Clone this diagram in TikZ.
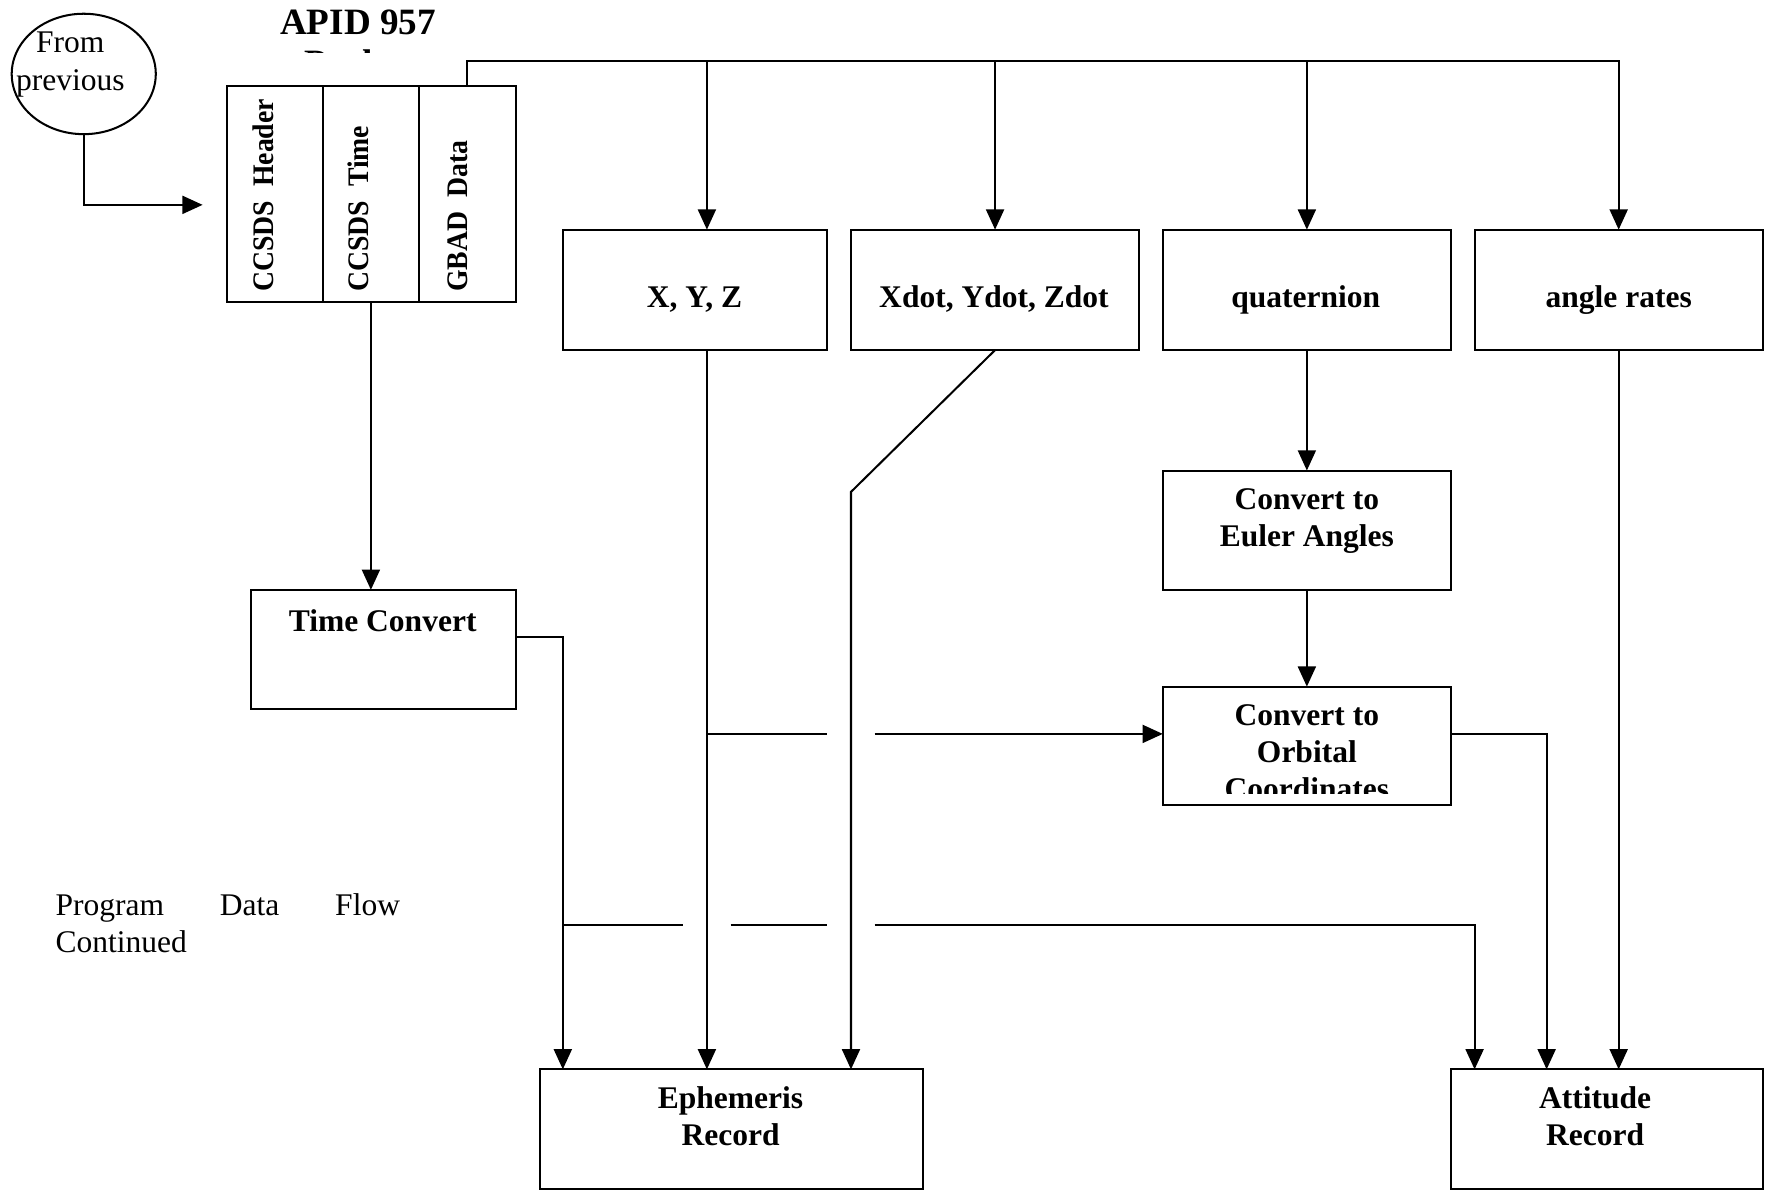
\documentclass[tikz,border=0pt]{standalone}
\usepackage{fontspec}
\setmainfont{Liberation Serif}
\newfontfamily\sidefont[FakeStretch=0.93]{Liberation Serif}
\usetikzlibrary{arrows.meta,shapes.geometric}
\begin{document}
\begin{tikzpicture}[x=1pt,y=-1pt,
  line width=1.8pt,
  box/.style={draw, rectangle, inner sep=0pt, outer sep=0pt, anchor=north west},
  arr/.style={-{Triangle[length=18pt,width=16pt]}},
  bt/.style={font=\fontsize{28}{33}\selectfont\bfseries, align=center, inner sep=0pt},
  rt/.style={font=\sidefont\fontsize{26.5}{30}\selectfont\bfseries, inner sep=0pt, rotate=90, anchor=base west},
  plain/.style={font=\fontsize{28}{33.5}\selectfont, inner sep=0pt},
]
\useasboundingbox (0,0) rectangle (1568,1059);

% start marker
\node[draw, ellipse, minimum width=128pt, minimum height=107pt, inner sep=0pt] (prev) at (74.4,65.7) {};
\node[plain, align=center] (prevt) at (62.5,57.5) {From\\previous};

% packet layout
\node[box, minimum width=85pt, minimum height=192pt] (hdr) at (202,76) {};
\node[box, minimum width=85pt, minimum height=192pt] (tim) at (287,76) {};
\node[box, minimum width=86pt, minimum height=192pt] (gbd) at (372,76) {};
\node[rt] (hdrt) at (243,260) {CCSDS\ \ Header};
\node[rt] (timt) at (327,260) {CCSDS\ \ Time};
\node[rt] (gbdt) at (415,260) {GBAD\ \ Data};

\node[font=\fontsize{33}{38}\selectfont\bfseries, anchor=base, inner sep=0pt] (apid) at (318,30.5) {APID 957};
\begin{scope}
  \clip (200,0) rectangle (460,47);
  \node[font=\fontsize{33}{38}\selectfont\bfseries, anchor=base, inner sep=0pt] (apid2) at (318,67.5) {Packet};
\end{scope}

% data fields
\node[box, minimum width=235pt, minimum height=107pt] (xyz) at (500,204) {};
\node[box, minimum width=256pt, minimum height=107pt] (vel) at (756,204) {};
\node[box, minimum width=256pt, minimum height=107pt] (quat) at (1033,204) {};
\node[box, minimum width=256pt, minimum height=107pt] (rate) at (1310,204) {};
\node[bt, anchor=base] at (617,273) {X, Y, Z};
\node[bt, anchor=base] at (883,273) {Xdot, Ydot, Zdot};
\node[bt, anchor=base] at (1160,273) {quaternion};
\node[bt, anchor=base] at (1438,273) {angle rates};

% processing steps
\node[box, minimum width=256pt, minimum height=106pt] (euler) at (1033,418) {};
\node[bt] at (1161,463) {Convert to\\Euler Angles};
\node[box, minimum width=256pt, minimum height=105pt] (orb) at (1033,610) {};
\begin{scope}
  \clip (1033,610) rectangle (1289,705);
  \node[bt] at (1161,668.5) {Convert to\\Orbital\\Coordinates};
\end{scope}
\node[box, minimum width=235pt, minimum height=106pt] (tconv) at (223,524) {};
\node[bt, anchor=base] at (340,561) {Time Convert};

% output records
\node[box, minimum width=340pt, minimum height=106pt] (eph) at (480,950) {};
\node[bt] at (649,992) {Ephemeris\\Record};
\node[box, minimum width=277pt, minimum height=106pt] (att) at (1289,950) {};
\node[bt] at (1417,992) {Attitude\\Record};

% free text
\node[plain, anchor=base west] (pdf1) at (48.5,813) {\hbox to 306pt{Program\hfill Data\hfill Flow}};
\node[plain, anchor=base west] (pdf2) at (48.5,846) {Continued};

% connectors
\coordinate (pin) at (180,182);
\draw[arr] (prev.south) |- (pin);

\coordinate (busy) at (0,54);
\coordinate (xtop) at ([xshift=10.5pt]xyz.north);
\coordinate (xbot) at ([xshift=10.5pt]xyz.south);
\draw[arr] (gbd.north) |- (rate.north |- busy) -- (rate.north);
\draw[arr] (xtop |- busy) -- (xtop);
\draw[arr] (vel.north |- busy) -- (vel.north);
\draw[arr] (quat.north |- busy) -- (quat.north);

\coordinate (e1) at ([xshift=20pt]eph.north west);
\coordinate (e2) at ([xshift=148pt]eph.north west);
\coordinate (e3) at ([xshift=276pt]eph.north west);
\coordinate (a1) at ([xshift=21pt]att.north west);
\coordinate (a2) at ([xshift=85pt]att.north west);
\coordinate (a3) at ([xshift=149pt]att.north west);

\draw[arr] (tim.south) -- (tim.south |- tconv.north);
\coordinate (tout) at ([yshift=11pt]tconv.east);
\draw[arr] (tout) -| (e1);
\draw[arr] (xbot) -- (e2);
\coordinate (bend) at (756,437);
\draw[arr] (vel.south) -- (bend) -- (e3);

\draw[arr] (quat.south) -- (euler.north);
\draw[arr] (euler.south) -- (orb.north);

% feed into orbital conversion, broken where it crosses
\coordinate (oin) at ([yshift=10.5pt]orb.west);
\coordinate (jl) at (735,652);
\coordinate (jr) at (777,652);
\draw (xbot |- oin) -- (jl);
\draw[arr] (jr) -- (oin);

\coordinate (oout) at ([yshift=10.5pt]orb.east);
\draw[arr] (oout) -| (a2);
\draw[arr] (rate.south) -- (a3);

% time bus to attitude record, broken at crossings
\coordinate (busb) at (0,822);
\coordinate (g1l) at (607,822);
\coordinate (g1r) at (649,822);
\coordinate (g2l) at (735,822);
\coordinate (g2r) at (777,822);
\draw (e1 |- busb) -- (g1l);
\draw (g1r) -- (g2l);
\draw[arr] (g2r) -| (a1);
\end{tikzpicture}
\end{document}
